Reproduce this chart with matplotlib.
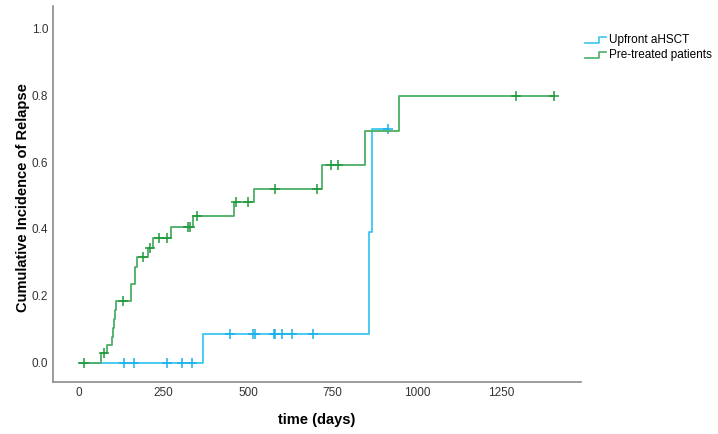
import numpy as np
import matplotlib
matplotlib.use('Agg')
import matplotlib.pyplot as plt
from matplotlib.lines import Line2D
from matplotlib.legend_handler import HandlerBase

plt.rcParams['font.family'] = ['Liberation Sans', 'DejaVu Sans']

# Upfront aHSCT: step times (days) and cumulative incidence after each step
upfront_times = [0, 367, 858, 866]
upfront_ci    = [0.0, 0.087, 0.39, 0.70]
upfront_end   = 914
upfront_cens  = [133, 163, 260, 305, 334, 447, 516, 520, 577, 581, 600, 630, 692, 914]

# Pre-treated patients
pretreated_times = [0, 65, 83, 98, 101, 104, 107, 110, 153, 166, 171, 205, 219,
                    271, 336, 457, 518, 719, 846, 947]
pretreated_ci    = [0.0, 0.03, 0.052, 0.078, 0.105, 0.13, 0.157, 0.185, 0.236, 0.287,
                    0.316, 0.343, 0.373, 0.405, 0.44, 0.48, 0.52, 0.59, 0.692, 0.796]
pretreated_end   = 1405
pretreated_cens  = [15, 74, 130, 190, 210, 235, 260, 323, 328, 350, 465, 501, 580,
                    704, 745, 766, 1293, 1405]

blue  = '#3cc6f2'
green = '#4cae66'
green_dark = '#1f9a3c'


def step_value(times, ci, t):
    idx = np.searchsorted(times, t, side='right') - 1
    return ci[idx]


class StepHandler(HandlerBase):
    # legend icon drawn as a small step, like the SPSS output
    def create_artists(self, legend, orig_handle, xdescent, ydescent,
                       width, height, fontsize, trans):
        x = [0, width * 0.65, width * 0.65, width]
        y = [height * 0.1, height * 0.1, height * 0.8, height * 0.8]
        ln = Line2D(x, y, color=orig_handle.get_color(), linewidth=1.2,
                    transform=trans)
        return [ln]


fig = plt.figure(figsize=(7.18, 4.34), dpi=100)
ax = fig.add_axes([0.074, 0.12, 0.735, 0.866])

ut = list(upfront_times) + [upfront_end]
uc = list(upfront_ci) + [upfront_ci[-1]]
ax.step(ut, uc, where='post', color=blue, linewidth=1.3)
ax.plot(upfront_cens, [step_value(upfront_times, upfront_ci, t) for t in upfront_cens],
        linestyle='none', marker='+', markersize=7, markeredgewidth=1.1, color='#19b2ea')

pt = list(pretreated_times) + [pretreated_end]
pc = list(pretreated_ci) + [pretreated_ci[-1]]
ax.step(pt, pc, where='post', color=green, linewidth=1.3)
ax.plot(pretreated_cens, [step_value(pretreated_times, pretreated_ci, t) for t in pretreated_cens],
        linestyle='none', marker='+', markersize=7, markeredgewidth=1.1, color=green_dark)

ax.set_xlim(-77, 1485)
ax.set_ylim(-0.057, 1.066)
ax.set_xticks([0, 250, 500, 750, 1000, 1250])
ax.set_yticks([0.0, 0.2, 0.4, 0.6, 0.8, 1.0])
ax.set_yticklabels(['0.0', '0.2', '0.4', '0.6', '0.8', '1.0'])
ax.tick_params(length=0, labelsize=8.5, colors='#333333', pad=3.5)

for s in ['top', 'right']:
    ax.spines[s].set_visible(False)
for s in ['left', 'bottom']:
    ax.spines[s].set_color('#8c8c8c')
    ax.spines[s].set_linewidth(1.2)

ax.set_xlabel('time (days)', fontsize=10.5, fontweight='bold', va='center')
ax.set_ylabel('Cumulative Incidence of Relapse', fontsize=10.5, fontweight='bold', va='center')
ax.xaxis.set_label_coords(0.5, -0.101)
ax.yaxis.set_label_coords(-0.058, 0.49)

handles = [Line2D([], [], color=blue), Line2D([], [], color=green)]
fig.legend(handles, ['Upfront aHSCT', 'Pre-treated patients'],
           loc='upper left', bbox_to_anchor=(0.7994, 0.945), frameon=False,
           fontsize=8.5, handlelength=1.85, handletextpad=0.25, labelspacing=0.25,
           handler_map={Line2D: StepHandler()})

fig.savefig('out.png', dpi=100)
